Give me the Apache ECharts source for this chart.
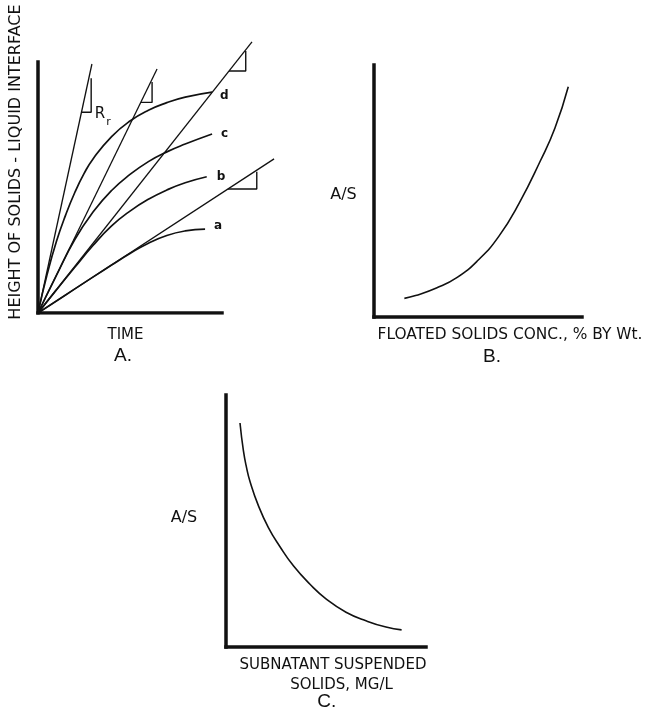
<!DOCTYPE html>
<html>
<head>
<meta charset="utf-8">
<script src="https://cdn.jsdelivr.net/npm/echarts@6/dist/echarts.min.js"></script>
<style>html,body{margin:0;padding:0;background:#fff}#c{width:651px;height:717px}</style>
</head>
<body>
<div id="c"></div>
<script>
// ---------- Panel A : height of interface vs time ----------
const curveNamesA = ['a', 'b', 'c', 'd'];
const curveA_a = [[0,0],[10,4.8],[20,9.6],[30,14.4],[40,19.1],[50,23.7],[60,27.8],[70,30.9],[80,32.7],[90.8,33.4]];
const curveA_b = [[0,0],[10,9.2],[20,18.2],[30,27],[40,34.7],[50,40.6],[60,45.3],[70,49],[80,51.9],[91.7,54.3]];
const curveA_c = [[0,0],[10,15],[20,29.3],[30,40.3],[40,48.8],[50,55.2],[60,60.3],[70,64.2],[80,67.3],[94.6,71.3]];
const curveA_d = [[0,0],[5,15.5],[10,28.5],[15,39],[20,48],[25,55.5],[30,61.5],[40,70.3],[50,76.5],[60,80.8],[70,83.8],[80,86],[94.6,88]];
// straight initial-rate lines from the origin (end points)
const rayEnds = [[29.3,99.2],[64.7,97.2],[116.3,108.0],[128.3,61.4]];
// slope triangles (foot on line, right-angle corner, top)
const slopeTris = [
  [[23.6,80],[28.9,80],[28.9,93.5]],
  [[55.9,83.9],[62.0,83.9],[62.0,92.0]],
  [[103.8,96.4],[112.9,96.4],[112.9,104.4]],
  [[103.2,49.4],[118.9,49.4],[118.9,56.3]]
];
// axis extents of panel A (time axis, height axis)
const axisA_x = [[0,0],[100,0]];
const axisA_y = [[0,0],[0,100]];
// ---------- Panel B : A/S vs floated solids conc. ----------
const curveB = [[14.6,7.4],[20,8.5],[30,11.5],[40,15.7],[50,22.5],[60,32],[70,45.5],[80,62],[87,75],[93.4,91.4]];
// ---------- Panel C : A/S vs subnatant suspended solids ----------
const curveC = [[7,88.9],[8.7,77.9],[10.3,71.1],[12,65.7],[16,56.5],[21.2,47.4],[27,39.8],[33.7,32.2],[42,24.9],[50.3,18.9],[60,13.8],[70.3,10.3],[80,7.9],[87.8,6.8]];

const INK = '#111';
const FONT = 'DejaVu Sans';

function axis(idx, max, showLine) {
  return {
    type: 'value', gridIndex: idx, min: 0, max: max,
    axisLine: {show: showLine, onZero: false, lineStyle: {color: INK, width: 3.5, cap: 'square'}},
    axisTick: {show: false}, axisLabel: {show: false}, splitLine: {show: false}
  };
}

const series = [];
[axisA_x, axisA_y].forEach(function (a) {
  series.push({type: 'line', xAxisIndex: 0, yAxisIndex: 0, data: a, symbol: 'none', silent: true,
    lineStyle: {color: INK, width: 3.5, cap: 'square'}});
});
rayEnds.forEach(function (e) {
  series.push({type: 'line', xAxisIndex: 0, yAxisIndex: 0, data: [[0,0], e], symbol: 'none',
    lineStyle: {color: INK, width: 1.3}, silent: true});
});
slopeTris.forEach(function (t) {
  series.push({type: 'line', xAxisIndex: 0, yAxisIndex: 0, data: t, symbol: 'none',
    lineStyle: {color: INK, width: 1.4}, silent: true});
});
const curvesA = [curveA_a, curveA_b, curveA_c, curveA_d];
const labOff = [[4,-3],[5,0],[4,0],[3,4]];
curvesA.forEach(function (c, i) {
  series.push({type: 'line', name: curveNamesA[i], xAxisIndex: 0, yAxisIndex: 0, data: c, symbol: 'none',
    smooth: 0.5,
    lineStyle: {color: INK, width: 1.7},
    endLabel: {show: true, formatter: curveNamesA[i], color: INK, fontFamily: FONT, fontWeight: 'bold',
      fontSize: 12, distance: 5, offset: labOff[i]}});
});
series.push({type: 'line', xAxisIndex: 1, yAxisIndex: 1, data: curveB, symbol: 'none', smooth: 0.5,
  lineStyle: {color: INK, width: 1.6}});
series.push({type: 'line', xAxisIndex: 2, yAxisIndex: 2, data: curveC, symbol: 'none', smooth: 0.5,
  lineStyle: {color: INK, width: 1.6}});

function txt(s, x, y, font, extra) {
  const o = {type: 'text', x: x, y: y, silent: true,
    style: {text: s, fill: INK, font: font, textAlign: 'center', textVerticalAlign: 'middle'}};
  if (extra) Object.assign(o, extra);
  return o;
}
const F15 = '15px "DejaVu Sans"', F16 = '16px "DejaVu Sans"', FBIG = '19px "Liberation Sans"';

const option = {
  animation: false,
  backgroundColor: '#fff',
  grid: [
    {left: 38, top: 36.9, width: 239.2, height: 276.1},
    {left: 374, top: 65, width: 208, height: 252},
    {left: 226, top: 395, width: 200, height: 252}
  ],
  xAxis: [axis(0, 130, false), axis(1, 100, true), axis(2, 100, true)],
  yAxis: [axis(0, 110, false), axis(1, 100, true), axis(2, 100, true)],
  series: series,
  graphic: [
    txt('HEIGHT OF SOLIDS - LIQUID INTERFACE', 16, 162, F16, {rotation: Math.PI / 2}),
    txt('TIME', 125.5, 335.5, F15),
    txt('A.', 123, 356, FBIG),
    txt('R', 100, 114, '15px "DejaVu Sans"'),
    txt('r', 108.5, 122, '11px "DejaVu Sans"'),
    txt('A/S', 343.5, 195, F16),
    txt('FLOATED SOLIDS CONC., % BY Wt.', 510, 335, '15.4px "DejaVu Sans"'),
    txt('B.', 492, 357, FBIG),
    txt('A/S', 184, 518, F16),
    txt('SUBNATANT SUSPENDED', 333, 665, F15),
    txt('SOLIDS, MG/L', 341.5, 685, F15),
    txt('C.', 326.7, 702, FBIG)
  ]
};
const chart = echarts.init(document.getElementById('c'), null, {renderer: 'canvas'});
chart.setOption(option);
</script>
</body>
</html>
